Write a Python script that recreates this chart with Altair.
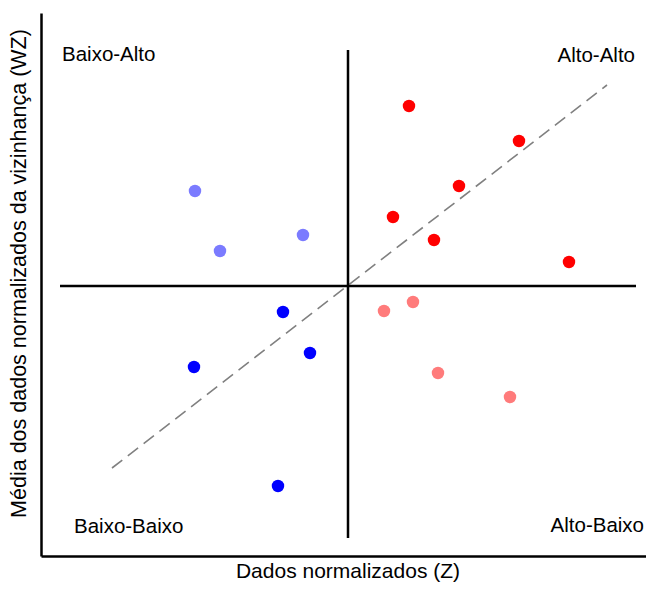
import altair as alt
import pandas as pd

# Points (normalized Z, spatial lag WZ) by quadrant
hh_z = [0.61, 1.71, 1.11, 0.45, 0.86, 2.21]
hh_wz = [1.80, 1.45, 1.00, 0.69, 0.46, 0.24]
lh_z = [-1.53, -1.28, -0.45]
lh_wz = [0.95, 0.35, 0.51]
ll_z = [-0.65, -0.38, -1.54, -0.70]
ll_wz = [-0.26, -0.67, -0.81, -2.00]
hl_z = [0.36, 0.65, 0.90, 1.62]
hl_wz = [-0.25, -0.16, -0.87, -1.11]

groups = ["Alto-Alto", "Baixo-Alto", "Baixo-Baixo", "Alto-Baixo"]
colors = ["#FF0000", "#7B7BFF", "#0000FF", "#FF7B7B"]

# regression (dashed) line end points
fit_z = [-2.36, 2.59]
fit_wz = [-1.82, 2.01]

# quadrant label anchors
label_text = ["Baixo-Alto", "Alto-Alto", "Baixo-Baixo", "Alto-Baixo"]
label_z = [-2.86, 2.87, -2.74, 2.96]
label_wz = [2.25, 2.24, -2.47, -2.46]
label_align = ["left", "right", "left", "right"]

x_dom = [-3.07, 2.98]
y_dom = [-2.70, 2.73]

rows = []
for g, zs, ws in zip(groups, [hh_z, lh_z, ll_z, hl_z], [hh_wz, lh_wz, ll_wz, hl_wz]):
    for z, w in zip(zs, ws):
        rows.append({"z": z, "wz": w, "grupo": g})
pts = pd.DataFrame(rows)

xs = alt.Scale(domain=x_dom, nice=False, zero=False)
ys = alt.Scale(domain=y_dom, nice=False, zero=False)

X = alt.X("z:Q", scale=xs, title="Dados normalizados (Z)")
Y = alt.Y("wz:Q", scale=ys, title="Média dos dados normalizados da vizinhança (WZ)")

fit = alt.Chart(pd.DataFrame({"z": fit_z, "wz": fit_wz})).mark_line(
    color="#808080", strokeWidth=1.6, strokeDash=[13, 7]
).encode(x=X, y=Y)

vrule = alt.Chart(pd.DataFrame({"z": [0], "y1": [-2.52], "y2": [2.36]})).mark_rule(
    color="black", strokeWidth=2.5
).encode(x=X, y=alt.Y("y1:Q", scale=ys), y2="y2:Q")

hrule = alt.Chart(pd.DataFrame({"wz": [0], "x1": [-2.88], "x2": [2.88]})).mark_rule(
    color="black", strokeWidth=2.5
).encode(y=Y, x=alt.X("x1:Q", scale=xs), x2="x2:Q")

points = alt.Chart(pts).mark_circle(size=155, opacity=1).encode(
    x=X, y=Y,
    color=alt.Color("grupo:N", scale=alt.Scale(domain=groups, range=colors), legend=None),
)

lab_layers = []
for t, z, w, a in zip(label_text, label_z, label_wz, label_align):
    lab_layers.append(
        alt.Chart(pd.DataFrame({"z": [z], "wz": [w], "t": [t]})).mark_text(
            align=a, baseline="alphabetic", fontSize=20.5, font="Liberation Sans", color="black"
        ).encode(x=X, y=Y, text="t:N")
    )

chart = alt.layer(fit, vrule, hrule, points, *lab_layers).properties(
    width=605, height=543,
    autosize=alt.AutoSizeParams(type="none"),
    padding={"left": 33, "top": 5, "right": 0, "bottom": 26},
).configure_view(stroke=None).configure_axis(
    grid=False, ticks=False, labels=False,
    domainColor="black", domainWidth=2.5,
    titleFont="Liberation Sans", titleFontWeight="normal", titleColor="black",
).configure_axisX(titlePadding=4, titleFontSize=21, titleX=306.5).configure_axisY(
    titlePadding=11, titleFontSize=21.5, titleY=260
)

chart.save("out.html", embed_options={"renderer": "svg", "actions": False})
